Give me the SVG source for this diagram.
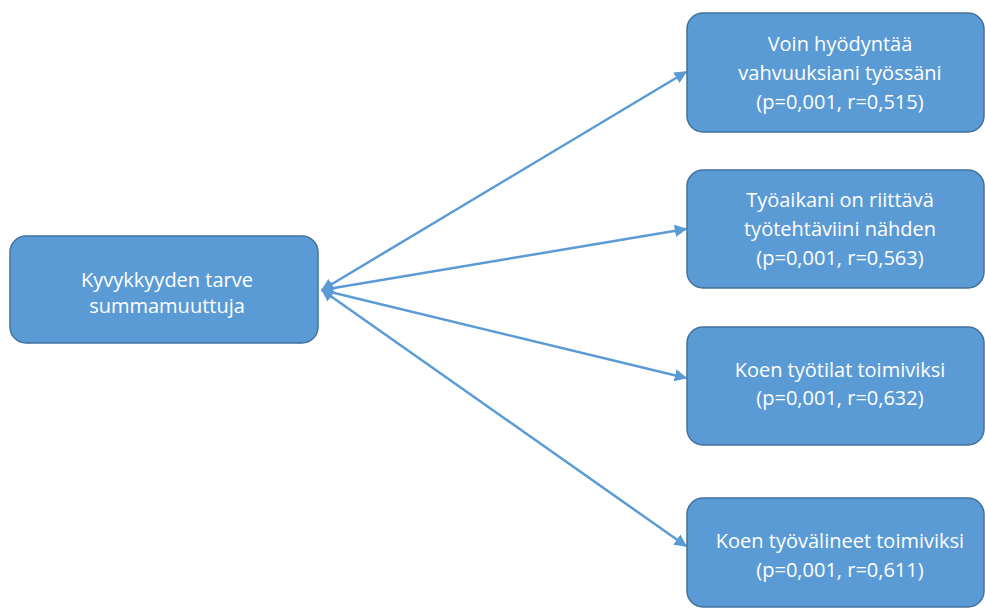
<svg xmlns="http://www.w3.org/2000/svg" width="985" height="608" viewBox="0 0 985 608">
<style>
.box{fill:#5B9BD5;stroke:#41719C;stroke-width:1.5}
.t{fill:#fff;font-family:"Open Sans","Liberation Sans",Arial,sans-serif;font-size:20px;text-anchor:middle}
.c{stroke:#5B9BD5;stroke-width:2.5;fill:none;marker-start:url(#a);marker-end:url(#a)}
</style>
<defs>
<marker id="a" viewBox="0 0 10 10" refX="9" refY="5" markerWidth="5" markerHeight="5" orient="auto-start-reverse" markerUnits="strokeWidth">
<path d="M0,0 L10,5 L0,10 z" fill="#5B9BD5"/>
</marker>
</defs>
<rect width="985" height="608" fill="#fff"/>
<g id="connectors">
<line class="c" x1="322" y1="290" x2="686" y2="72"/>
<line class="c" x1="322" y1="290" x2="686" y2="229"/>
<line class="c" x1="322" y1="290" x2="686" y2="378"/>
<line class="c" x1="322" y1="290" x2="686" y2="546"/>
</g>
<g id="n0">
<rect class="box" x="10" y="236" width="308" height="107" rx="16"/>
<text class="t" x="167" y="287">Kyvykkyyden tarve</text>
<text class="t" x="167" y="313">summamuuttuja</text>
</g>
<g id="n1">
<rect class="box" x="687" y="13" width="297" height="119" rx="16"/>
<text class="t" x="840" y="51">Voin hyödyntää</text>
<text class="t" x="840" y="80">vahvuuksiani työssäni</text>
<text class="t" x="840" y="109">(p=0,001, r=0,515)</text>
</g>
<g id="n2">
<rect class="box" x="687" y="170" width="297" height="118" rx="16"/>
<text class="t" x="840" y="207">Työaikani on riittävä</text>
<text class="t" x="840" y="236">työtehtäviini nähden</text>
<text class="t" x="840" y="265">(p=0,001, r=0,563)</text>
</g>
<g id="n3">
<rect class="box" x="687" y="327" width="297" height="118" rx="16"/>
<text class="t" x="840" y="377">Koen työtilat toimiviksi</text>
<text class="t" x="840" y="405">(p=0,001, r=0,632)</text>
</g>
<g id="n4">
<rect class="box" x="687" y="498" width="297" height="109" rx="16"/>
<text class="t" x="840" y="548">Koen työvälineet toimiviksi</text>
<text class="t" x="840" y="577">(p=0,001, r=0,611)</text>
</g>
</svg>
